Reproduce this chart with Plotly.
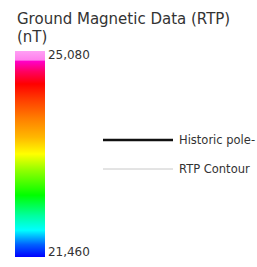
import plotly.graph_objects as go

# ---- data ----
title_lines = ["Ground Magnetic Data (RTP)", "(nT)"]
value_min = 21460
value_max = 25080
tick_values = [21460, 25080]
tick_labels = ["21,460", "25,080"]
legend_names = ["Historic pole-", "RTP Contour"]
legend_colors = ["#111111", "#c8c8c8"]
legend_widths = [2.6, 1]

colorscale = [
    [0.00, "#0000ff"],
    [0.06, "#0060ff"],
    [0.13, "#00ffff"],
    [0.20, "#00ffa0"],
    [0.30, "#00ff00"],
    [0.42, "#90ff00"],
    [0.50, "#ffff00"],
    [0.58, "#ffb800"],
    [0.67, "#ff8000"],
    [0.76, "#ff4000"],
    [0.84, "#ff0000"],
    [0.90, "#ff0060"],
    [0.95, "#ff00c8"],
    [0.956, "#ff80ec"],
    [1.00, "#ffa0f4"],
]

W, H = 257, 267
FONT = "DejaVu Sans"
fig = go.Figure()

fig.add_trace(go.Scatter(
    x=[None, None], y=[None, None], mode="markers",
    marker=dict(
        color=[value_min, value_max], colorscale=colorscale,
        cmin=value_min - 92, cmax=value_max + 73, showscale=True,
        colorbar=dict(
            xref="container", yref="container",
            x=15 / W, xanchor="left", xpad=0,
            y=(H - 257) / H, yanchor="bottom", ypad=0,
            len=206, lenmode="pixels", thickness=30, thicknessmode="pixels",
            outlinewidth=0, borderwidth=0, ticks="", tickvals=tick_values, ticktext=tick_labels,
            tickfont=dict(family=FONT, size=12, color="#333333"),
        ),
    ),
    showlegend=False, hoverinfo="skip",
))

for i, (name, col, w) in enumerate(zip(legend_names, legend_colors, legend_widths)):
    fig.add_trace(go.Scatter(
        x=[0, 1], y=[i, i], mode="lines", line=dict(color=col, width=w),
        xaxis="x2", yaxis="y2", showlegend=False, hoverinfo="skip",
    ))
    fig.add_annotation(
        x=74 / 70, y=i, xref="x2", yref="y2", text=name, showarrow=False,
        xanchor="left", yanchor="middle",
        font=dict(family=FONT, size=11.5, color="#333333"),
    )

for j, (line, base) in enumerate(zip(title_lines, [24, 42])):
    fig.add_annotation(
        x=15 / W, y=1 - (base - 0.35 * 15) / H, xref="paper", yref="paper",
        xanchor="left", yanchor="middle", text=line, showarrow=False,
        font=dict(family=FONT, size=15, color="#333333"),
    )

fig.update_layout(
    width=W, height=H, margin=dict(l=0, r=0, t=0, b=0, autoexpand=False),
    paper_bgcolor="white", plot_bgcolor="rgba(0,0,0,0)",
    xaxis=dict(visible=False),
    yaxis=dict(visible=False),
    xaxis2=dict(domain=[103 / W, 1], range=[0, 154 / 70], visible=False),
    yaxis2=dict(domain=[0, 1], range=[(H - 140) / 29, -140 / 29], visible=False, anchor="x2"),
)

fig.write_html("out.html", config={"displayModeBar": False},
               post_script="document.body.style.margin='0px';")
